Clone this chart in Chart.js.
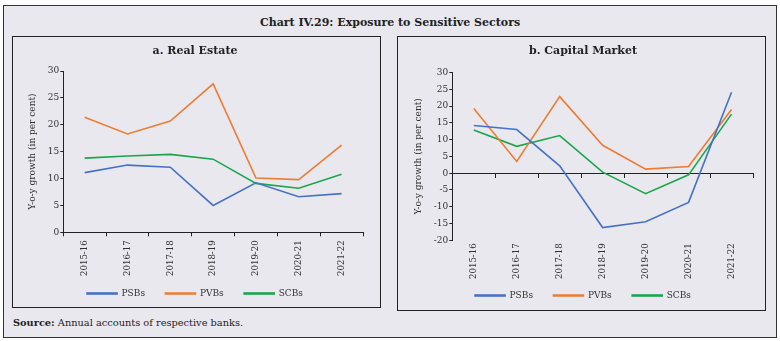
<!DOCTYPE html>
<html>
<head>
<meta charset="utf-8">
<script src="https://cdn.jsdelivr.net/npm/chart.js@4/dist/chart.umd.min.js"></script>
<style>
  body { margin: 0; background: #fff; font-family: "DejaVu Serif", serif; }
  #frame { position: absolute; left: 3px; top: 5px; width: 772px; height: 331px; border: 1px solid #333; background: #e9e8ef; }
  #titre { position: absolute; left: 0; top: 10px; width: 772px; text-align: center; font-weight: bold; font-size: 11px; color: #222; }
  .panel { position: absolute; border: 1px solid #222; }
  #pA { left: 8px; top: 30px; width: 367px; height: 270px; }
  #pB { left: 393px; top: 30px; width: 367px; height: 273px; }
  #sumber { position: absolute; left: 9px; top: 311px; font-size: 9.8px; color: #222; }
</style>
</head>
<body>
<div id="frame">
  <div id="titre">Chart IV.29: Exposure to Sensitive Sectors</div>
  <div class="panel" id="pA"><canvas id="grafA" width="367" height="270"></canvas></div>
  <div class="panel" id="pB"><canvas id="grafB" width="367" height="273"></canvas></div>
  <div id="sumber"><b>Source:</b> Annual accounts of respective banks.</div>
</div>
<script>
// data dibaca dari carta asal
const tahun = ['2015-16', '2016-17', '2017-18', '2018-19', '2019-20', '2020-21', '2021-22'];

// a. Real Estate
const hartanahPSB = [11.1, 12.5, 12.1, 5.0, 9.2, 6.6, 7.2];
const hartanahPVB = [21.4, 18.3, 20.7, 27.6, 10.1, 9.8, 16.2];
const hartanahSCB = [13.8, 14.2, 14.5, 13.6, 9.1, 8.2, 10.8];

// b. Capital Market
const modalPSB = [14.2, 13.0, 2.2, -16.2, -14.5, -8.7, 24.1];
const modalPVB = [19.3, 3.5, 22.8, 8.3, 1.2, 2.0, 19.0];
const modalSCB = [12.9, 8.0, 11.2, 0.3, -6.1, -0.5, 17.6];

const tickA = { min: 0, max: 30, step: 5 };
const tickB = { min: -20, max: 30, step: 5 };

const warna = { PSBs: '#4472c4', PVBs: '#ed7d31', SCBs: '#1aa64a' };
const fon = '"DejaVu Serif", serif';
const teks = '#333';

function siri(psb, pvb, scb) {
  return [
    ['PSBs', psb], ['PVBs', pvb], ['SCBs', scb]
  ].map(([nama, data]) => ({
    label: nama,
    data,
    borderColor: warna[nama],
    backgroundColor: warna[nama],
    borderWidth: 1.6,
    pointRadius: 0,
    tension: 0,
    xAxisID: 'x'
  }));
}

// label legenda dengan ruang tambahan supaya jarak antara item lebih lebar
function labelLegenda(chart) {
  const asal = Chart.defaults.plugins.legend.labels.generateLabels(chart);
  asal.forEach((l, i) => {
    l.lineWidth = 1.6;
    if (i < asal.length - 1) l.text = l.text + '\u00a0\u00a0\u00a0\u00a0';
  });
  return asal;
}

function binaCarta(id, tajuk, dataset, julat, paksiSifar, pad) {
  const paksiX = {
    type: 'category',
    position: 'bottom',
    offset: true,
    grid: { drawOnChartArea: false, drawTicks: true, tickLength: 4, color: '#222', offset: true },
    border: { display: true, color: '#222', width: 1 },
    ticks: { color: teks, font: { family: fon, size: 8.6 }, minRotation: 90, maxRotation: 90, padding: pad.xlabel }
  };

  const skala = {
    y: {
      min: julat.min,
      max: julat.max,
      ticks: { stepSize: julat.step, color: teks, font: { family: fon, size: 9 }, padding: 1 },
      grid: { drawOnChartArea: false, drawTicks: true, tickLength: 3, color: '#222' },
      border: { display: true, color: '#222', width: 1 },
      title: { display: true, text: 'Y-o-y growth (in per cent)', color: teks, font: { family: fon, size: 9 }, padding: { top: 0, bottom: 9 } }
    }
  };

  if (paksiSifar) {
    // garis paksi x pada nilai 0, label di bawah
    skala.x = Object.assign({}, paksiX, {
      position: { y: 0 },
      ticks: { display: false }
    });
    skala.xLabel = Object.assign({}, paksiX, {
      grid: { display: false, drawTicks: false, tickLength: 0 },
      border: { display: false }
    });
  } else {
    skala.x = paksiX;
  }

  return new Chart(document.getElementById(id).getContext('2d'), {
    type: 'line',
    data: { labels: tahun, datasets: dataset },
    options: {
      responsive: false,
      animation: false,
      layout: { padding: { left: pad.left, right: pad.right, top: 0, bottom: pad.bottom } },
      scales: skala,
      plugins: {
        title: {
          display: true,
          text: tajuk,
          color: '#222',
          font: { family: fon, size: 11, weight: 'bold' },
          padding: { top: 8, bottom: pad.title }
        },
        legend: {
          display: true,
          position: 'bottom',
          labels: {
            color: teks,
            font: { family: fon, size: 9 },
            boxWidth: 30,
            boxHeight: 1,
            padding: 9,
            generateLabels: labelLegenda
          }
        },
        tooltip: { enabled: false }
      }
    }
  });
}

binaCarta('grafA', 'a. Real Estate', siri(hartanahPSB, hartanahPVB, hartanahSCB), tickA, false,
  { left: 14, right: 17, bottom: -1, title: 12.8, xlabel: 4 });
binaCarta('grafB', 'b. Capital Market', siri(modalPSB, modalPVB, modalSCB), tickB, true,
  { left: 15, right: 12, bottom: 0, title: 14.3, xlabel: 3 });
</script>
</body>
</html>
